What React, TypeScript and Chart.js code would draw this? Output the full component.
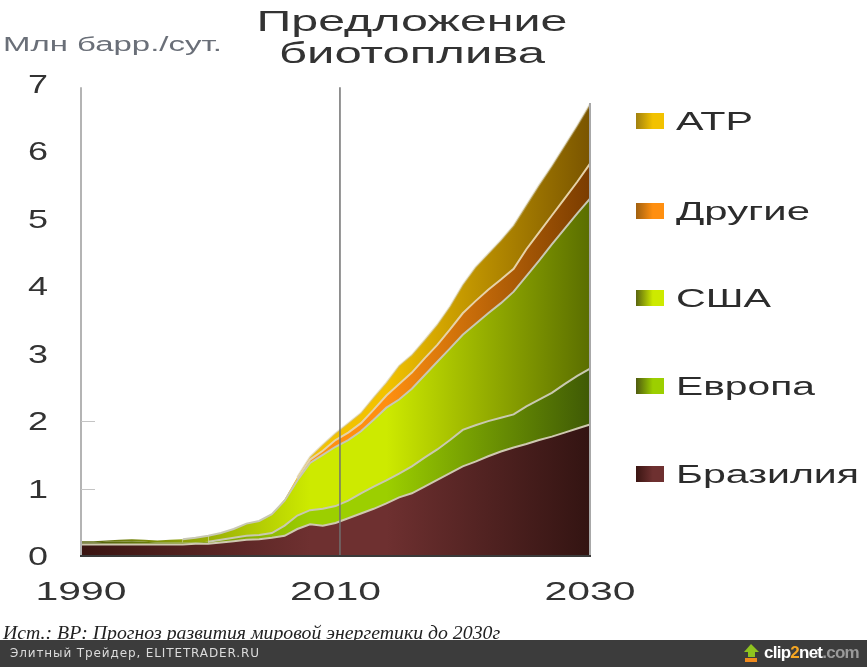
import React, { useEffect, useRef } from "react";
import { Chart, registerables } from "chart.js";

Chart.register(...registerables);

const years = Array.from({ length: 41 }, (_, i) => String(1990 + i));
const xTickLabels = ["1990", "2010", "2030"];
const yTickLabels = [0, 1, 2, 3, 4, 5, 6, 7];
const markerYear = 20.35; // the vertical line sits a bit right of the 2010 label

const brazil = [0.17, 0.17, 0.17, 0.17, 0.17, 0.17, 0.17, 0.17, 0.17, 0.18, 0.18, 0.2, 0.22, 0.24, 0.25, 0.27, 0.3, 0.4, 0.47, 0.45, 0.49, 0.56, 0.63, 0.7, 0.78, 0.87, 0.93, 1.03, 1.13, 1.23, 1.33, 1.4, 1.48, 1.55, 1.61, 1.66, 1.72, 1.77, 1.83, 1.89, 1.95];
const europe = [0.03, 0.03, 0.04, 0.04, 0.05, 0.04, 0.03, 0.03, 0.03, 0.02, 0.03, 0.04, 0.05, 0.06, 0.06, 0.07, 0.15, 0.2, 0.21, 0.25, 0.25, 0.26, 0.3, 0.33, 0.34, 0.35, 0.4, 0.43, 0.45, 0.49, 0.54, 0.54, 0.52, 0.5, 0.49, 0.56, 0.6, 0.65, 0.72, 0.78, 0.83];
const usa = [0.02, 0.02, 0.02, 0.03, 0.03, 0.03, 0.03, 0.04, 0.05, 0.07, 0.09, 0.1, 0.13, 0.18, 0.21, 0.28, 0.37, 0.52, 0.7, 0.8, 0.88, 0.9, 0.92, 0.99, 1.08, 1.1, 1.15, 1.22, 1.3, 1.36, 1.41, 1.5, 1.6, 1.7, 1.82, 1.93, 2.06, 2.2, 2.3, 2.41, 2.52];
const other = [0, 0, 0, 0, 0, 0, 0, 0, 0, 0, 0, 0, 0, 0, 0, 0, 0.01, 0.03, 0.05, 0.06, 0.1, 0.11, 0.12, 0.15, 0.18, 0.23, 0.24, 0.25, 0.25, 0.28, 0.32, 0.34, 0.35, 0.35, 0.34, 0.4, 0.42, 0.43, 0.45, 0.47, 0.52];
const apac = [0, 0, 0, 0, 0, 0, 0, 0, 0, 0, 0, 0, 0, 0, 0, 0, 0.01, 0.02, 0.04, 0.09, 0.1, 0.14, 0.15, 0.18, 0.19, 0.27, 0.26, 0.27, 0.3, 0.34, 0.42, 0.5, 0.53, 0.58, 0.64, 0.65, 0.7, 0.73, 0.78, 0.83, 0.88];

const TEXT = "#333";

// left, middle, right colour of each band
const brazilColors = ["#3a1512", "#6e3030", "#331412"];
const europeColors = ["#4f5a10", "#9ccf00", "#3f5a05"];
const usaColors = ["#5a6510", "#cdea00", "#5a6e00"];
const otherColors = ["#a06010", "#ff8f10", "#7a3c00"];
const apacColors = ["#a08010", "#f2c200", "#7a5500"];

function bandFill(colors: string[]) {
  return (context: any) => {
    const { ctx, chartArea } = context.chart;
    if (!chartArea) return colors[1];
    const g = ctx.createLinearGradient(chartArea.left, 0, chartArea.right, 0);
    g.addColorStop(0, colors[0]);
    g.addColorStop(0.45, colors[1]);
    g.addColorStop(0.6, colors[1]);
    g.addColorStop(1, colors[2]);
    return g;
  };
}

// the source image is stretched sideways, so text is fitted to a width
function stretched(ctx: CanvasRenderingContext2D, text: string, x: number, y: number, width: number, font: string, color = TEXT, center = false) {
  ctx.save();
  ctx.font = font;
  ctx.fillStyle = color;
  ctx.textBaseline = "alphabetic";
  ctx.textAlign = "left";
  const k = width / ctx.measureText(text).width;
  ctx.translate(center ? x - width / 2 : x, y);
  ctx.scale(k, 1);
  ctx.fillText(text, 0, 0);
  ctx.restore();
}

const axesPlugin = {
  id: "axesPlugin",
  afterDatasetsDraw(chart: any) {
    const { ctx, chartArea, scales } = chart;
    const { left, right, bottom } = chartArea;
    ctx.save();
    ctx.strokeStyle = "#b4b4b4";
    ctx.lineWidth = 2;
    ctx.beginPath();
    ctx.moveTo(left, scales.y.getPixelForValue(6.95));
    ctx.lineTo(left, bottom);
    ctx.stroke();
    ctx.strokeStyle = "#c4c4c4";
    ctx.lineWidth = 1;
    [1, 2].forEach((v) => {
      const py = Math.round(scales.y.getPixelForValue(v)) + 0.5;
      ctx.beginPath();
      ctx.moveTo(left, py);
      ctx.lineTo(left + 14, py);
      ctx.stroke();
    });
    ctx.strokeStyle = "#a8a8a8";
    ctx.lineWidth = 2;
    ctx.beginPath();
    ctx.moveTo(right, scales.y.getPixelForValue(6.72));
    ctx.lineTo(right, bottom);
    ctx.stroke();
    ctx.strokeStyle = "#707070";
    ctx.lineWidth = 1.5;
    const mx = scales.x.getPixelForValue(markerYear);
    ctx.beginPath();
    ctx.moveTo(mx, scales.y.getPixelForValue(6.95));
    ctx.lineTo(mx, bottom);
    ctx.stroke();
    ctx.strokeStyle = "#3a3a3a";
    ctx.lineWidth = 2;
    ctx.beginPath();
    ctx.moveTo(left - 1, bottom);
    ctx.lineTo(right + 1, bottom);
    ctx.stroke();
    ctx.restore();
  },
  afterDraw(chart: any) {
    const { ctx, scales } = chart;
    const tickFont = "25px 'Liberation Sans'";
    yTickLabels.forEach((v) => {
      stretched(ctx, String(v), 38, scales.y.getPixelForValue(v) + 9, 20, tickFont, TEXT, true);
    });
    xTickLabels.forEach((label) => {
      stretched(ctx, label, scales.x.getPixelForValue(years.indexOf(label)), 600, 91, tickFont, TEXT, true);
    });
    stretched(ctx, "Предложение", 412, 31, 311, "30px 'Liberation Sans'", TEXT, true);
    stretched(ctx, "биотоплива", 412, 63, 266, "30px 'Liberation Sans'", TEXT, true);
    stretched(ctx, "Млн барр./сут.", 3, 51, 219, "20px 'Liberation Sans'", "#6a6f78");

    legendItems.forEach((item) => {
      const g = ctx.createLinearGradient(636, 0, 664, 0);
      g.addColorStop(0, item.colors[0]);
      g.addColorStop(0.6, item.colors[1]);
      g.addColorStop(1, item.colors[1]);
      ctx.fillStyle = g;
      ctx.fillRect(636, item.y - 8, 28, 16);
      stretched(ctx, item.label, 676, item.y + 9, item.width, "25px 'Liberation Sans'", "#2c2c2c");
    });
  },
};

const legendItems = [
  { label: "АТР", colors: apacColors, y: 121, width: 77 },
  { label: "Другие", colors: otherColors, y: 211, width: 134 },
  { label: "США", colors: usaColors, y: 298, width: 95 },
  { label: "Европа", colors: europeColors, y: 386, width: 139 },
  { label: "Бразилия", colors: brazilColors, y: 474, width: 183 },
];

// lineFrom: first year index where the band's pale edge is visible in the picture
function band(label: string, data: number[], colors: string[], fill: any, borderColor: string, lineFrom: number) {
  return {
    label,
    data,
    fill,
    backgroundColor: bandFill(colors),
    borderColor,
    borderWidth: 2,
    pointRadius: 0,
    tension: 0,
    segment: {
      borderColor: (ctx: any) => (ctx.p1DataIndex < lineFrom ? "transparent" : undefined),
    },
  };
}

export default function App() {
  const canvasRef = useRef<HTMLCanvasElement | null>(null);

  useEffect(() => {
    document.body.style.margin = "0";
    if (!canvasRef.current) return;
    const hidden = { grid: { display: false, drawTicks: false, tickLength: 0 }, border: { display: false }, ticks: { display: false } };
    const chart = new Chart(canvasRef.current, {
      type: "line",
      data: {
        labels: years,
        datasets: [
          band("Бразилия", brazil, brazilColors, "origin", "#cfc9b0", 0),
          band("Европа", europe, europeColors, "-1", "#c9c9b0", 11),
          band("США", usa, usaColors, "-1", "#c8c8b4", 9),
          band("Другие", other, otherColors, "-1", "#e6d2a8", 18),
          band("АТР", apac, apacColors, "-1", "rgba(200,190,150,0.45)", 18),
        ],
      },
      options: {
        animation: false,
        responsive: false,
        layout: { padding: { left: 81, right: 277, top: 84, bottom: 111 } },
        plugins: { legend: { display: false }, title: { display: false }, tooltip: { enabled: false } },
        scales: {
          x: { offset: false, ...hidden },
          y: { stacked: true, min: 0, max: 7, ...hidden },
        },
      },
      plugins: [axesPlugin],
    });
    return () => chart.destroy();
  }, []);

  return (
    <div style={{ position: "relative", width: 867, height: 667, overflow: "hidden", background: "#fff" }}>
      <canvas ref={canvasRef} width={867} height={667} style={{ position: "absolute", left: 0, top: 0 }} />
      <div style={{ position: "absolute", left: 3, top: 621, fontFamily: "'Liberation Serif'", fontStyle: "italic", fontSize: 19.8, color: "#222", whiteSpace: "nowrap" }}>
        Ист.: BP: Прогноз развития мировой энергетики до 2030г
      </div>
      <div style={{ position: "absolute", left: 0, top: 640, width: 867, height: 27, background: "#3c3c3c" }}>
        <span style={{ position: "absolute", left: 10, top: 6, fontFamily: "'DejaVu Sans'", fontSize: 12, letterSpacing: 0.88, color: "#dcdcdc", whiteSpace: "nowrap" }}>
          Элитный Трейдер, ELITETRADER.RU
        </span>
        <svg style={{ position: "absolute", left: 742, top: 3 }} width={20} height={20} viewBox="0 0 20 20">
          <path d="M9 1 L17 9 L13 9 L13 14 L6 14 L6 9 L2 9 Z" fill="#8fc31f" />
          <rect x="3" y="15" width="12" height="4" fill="#f08a1d" />
        </svg>
        <span style={{ position: "absolute", left: 764, top: 3, fontFamily: "'Liberation Sans'", fontWeight: 700, fontSize: 17, letterSpacing: -0.75, color: "#fff", whiteSpace: "nowrap" }}>
          clip<span style={{ color: "#f5a623" }}>2</span>net<span style={{ color: "#9a9a9a" }}>.com</span>
        </span>
      </div>
    </div>
  );
}
